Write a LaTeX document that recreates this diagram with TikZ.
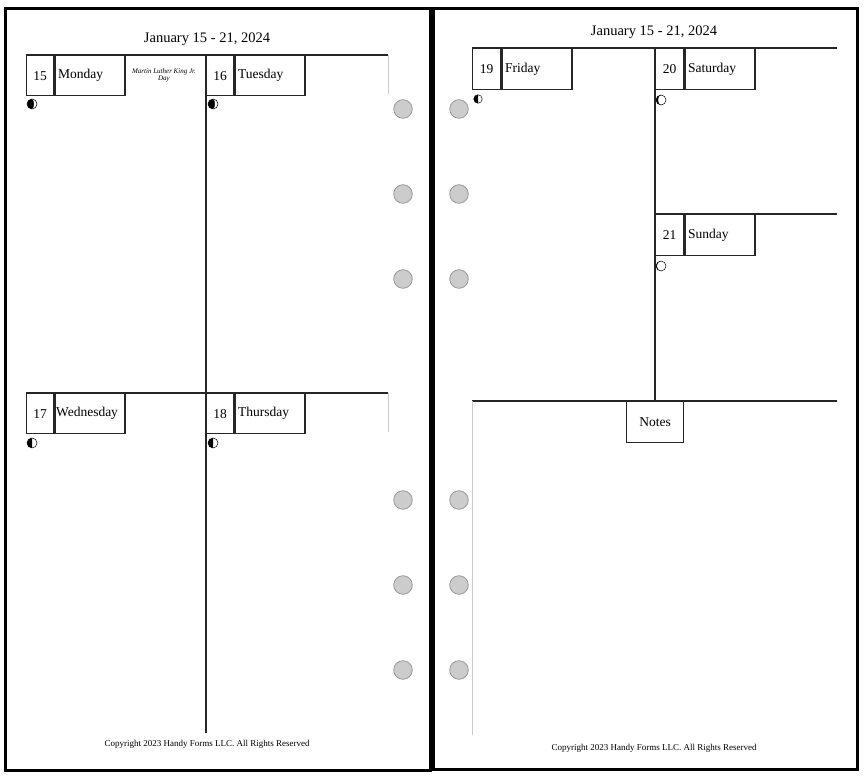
\documentclass[tikz,border=0pt]{standalone}
\usepackage{fontspec}
\setmainfont{Liberation Serif}
\begin{document}
\begin{tikzpicture}[x=1pt,y=-1pt,
  page/.style={draw=black, line width=3pt},
  rule/.style={draw=black!85, line width=1.4pt},
  grayline/.style={draw=black!20, line width=0.8pt},
  numbox/.style={draw=black!85, line width=1.4pt, minimum width=27pt, minimum height=40pt, inner sep=0pt, anchor=north west, font=\fontsize{13.5}{15}\selectfont},
  namebox/.style={draw=black!85, line width=1.4pt, minimum width=70pt, minimum height=40pt, inner xsep=3pt, inner ysep=0pt, text width=64pt, align=left, anchor=north west, font=\fontsize{13.5}{15}\selectfont},
  notebox/.style={draw=black!85, line width=1.4pt, minimum width=57pt, minimum height=41pt, inner sep=0pt, anchor=north, font=\fontsize{13.5}{15}\selectfont},
  title/.style={font=\fontsize{14.5}{17}\selectfont, inner sep=0pt},
  copy/.style={font=\fontsize{9}{10}\selectfont, inner sep=0pt},
  hole/.style={fill=black!20, draw=black!40, line width=0.8pt},
  moongib/.pic={
    \fill[black] (0,0) circle[radius=5pt];
    \fill[white] (0,5pt) arc[start angle=90,end angle=-90,radius=5pt] arc[start angle=-90,end angle=90,x radius=2pt,y radius=5pt] -- cycle;
    \draw[black, line width=0.5pt] (0,0) circle[radius=5pt];
  },
  moonhalf/.pic={
    \fill[white] (0,0) circle[radius=5pt];
    \fill[black] (0,5pt) arc[start angle=90,end angle=270,radius=5pt] -- cycle;
    \draw[black, line width=0.5pt] (0,0) circle[radius=5pt];
  },
  moonthin/.pic={
    \fill[white] (0,0) circle[radius=5pt];
    \fill[black] (0,5pt) arc[start angle=90,end angle=270,radius=5pt] arc[start angle=270,end angle=90,x radius=3pt,y radius=5pt] -- cycle;
    \draw[black, line width=0.5pt] (0,0) circle[radius=5pt];
  },
  moonfull/.pic={
    \fill[white] (0,0) circle[radius=5pt];
    \fill[black] (0,5pt) arc[start angle=90,end angle=270,radius=5pt] arc[start angle=270,end angle=90,x radius=4.2pt,y radius=5pt] -- cycle;
    \draw[black, line width=0.5pt] (0,0) circle[radius=5pt];
  }
]
\useasboundingbox (0,0) rectangle (868,778);
\fill[white] (0,0) rectangle (868,778);

% pages
\draw[page] (5,9) rectangle (430,770);
\draw[page] (433,9) rectangle (857,769);

% ---------- left page ----------
\node[title] (t1) at (207,39) {January 15 - 21, 2024};

\coordinate (L1e) at (388,55);
\coordinate (L1b) at (388,94);
\coordinate (L2e) at (388,393);
\coordinate (L2b) at (388,432);
\coordinate (Lbot) at (206,733);

\node[numbox] (n15) at (26,55) {15};
\node[namebox] (d15) at (n15.north east) {Monday};
\node[numbox] (n16) at (206,55) {16};
\node[namebox] (d16) at (n16.north east) {Tuesday};
\node[numbox] (n17) at (26,393) {17};
\node[namebox, inner xsep=1pt, text width=68pt] (d17) at (n17.north east) {Wednesday};
\node[numbox] (n18) at (206,393) {18};
\node[namebox] (d18) at (n18.north east) {Thursday};

\draw[rule] (n15.north west) -- (L1e);
\draw[rule] (n17.north west) -- (L2e);
\draw[rule] (n16.north west) -- (Lbot);
\draw[grayline] (L1e) -- (L1b);
\draw[grayline] (L2e) -- (L2b);

\node[font=\fontsize{7}{7}\selectfont\itshape, align=center, inner sep=0pt] (mlk) at (164,75) {Martin Luther King Jr.\\Day};

\pic at (32,104) {moongib};
\pic at (213,104) {moongib};
\pic at (32,443) {moonhalf};
\pic at (213,443) {moonhalf};

\node[copy] (c1) at (207,744) {Copyright 2023 Handy Forms LLC. All Rights Reserved};

% ---------- holes ----------
\foreach \yy in {109,194,279,500,585,670}{
  \draw[hole] (403,\yy) circle[radius=9.3pt];
  \draw[hole] (459,\yy) circle[radius=9.3pt];
}

% ---------- right page ----------
\node[title] (t2) at (654,32) {January 15 - 21, 2024};

\coordinate (R1e) at (837,48);
\coordinate (R2e) at (837,214);
\coordinate (R3s) at (472,401);
\coordinate (R3e) at (837,401);
\coordinate (R3b) at (472,735);

\node[numbox, minimum height=41pt, minimum width=28pt] (n19) at (472,48) {19};
\node[namebox, minimum height=41pt] (d19) at (n19.north east) {Friday};
\node[numbox, minimum height=41pt, minimum width=28pt] (n20) at (655,48) {20};
\node[namebox, minimum height=41pt] (d20) at (n20.north east) {Saturday};
\node[numbox, minimum height=41pt, minimum width=28pt] (n21) at (655,214) {21};
\node[namebox, minimum height=41pt] (d21) at (n21.north east) {Sunday};
\node[notebox] (notes) at (655,401) {Notes};

\draw[rule] (n19.north west) -- (R1e);
\draw[rule] (n21.north west) -- (R2e);
\draw[rule] (n20.north west) -- (notes.north);
\draw[rule] (R3s) -- (R3e);
\draw[grayline] (R3s) -- (R3b);

\pic[scale=0.85] at (478,99) {moonhalf};
\pic at (661,100) {moonthin};
\pic at (661,266) {moonfull};

\node[copy] (c2) at (654,748) {Copyright 2023 Handy Forms LLC. All Rights Reserved};
\end{tikzpicture}
\end{document}
